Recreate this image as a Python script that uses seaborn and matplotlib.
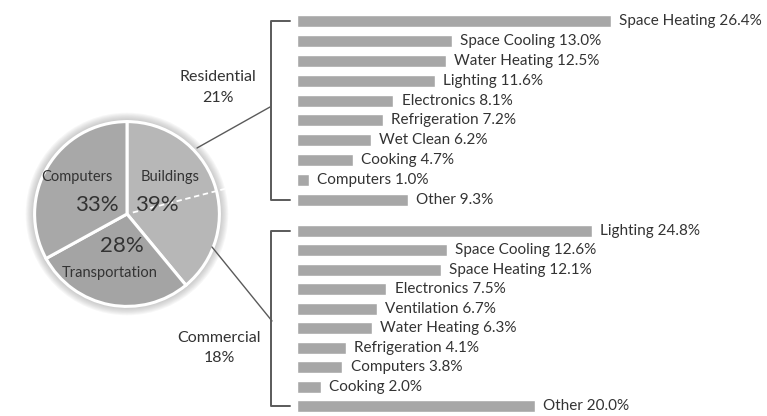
import seaborn as sns
import matplotlib.pyplot as plt
import numpy as np
import pandas as pd

# Data
pie_labels = ['Buildings', 'Transportation', 'Computers']
pie_shares = [39, 28, 33]
residential_share = 21
commercial_share = 18

res_uses = ['Space Heating', 'Space Cooling', 'Water Heating', 'Lighting', 'Electronics',
            'Refrigeration', 'Wet Clean', 'Cooking', 'Computers', 'Other']
res_pct = [26.4, 13.0, 12.5, 11.6, 8.1, 7.2, 6.2, 4.7, 1.0, 9.3]

com_uses = ['Lighting', 'Space Cooling', 'Space Heating', 'Electronics', 'Ventilation',
            'Water Heating', 'Refrigeration', 'Computers', 'Cooking', 'Other']
com_pct = [24.8, 12.6, 12.1, 7.5, 6.7, 6.3, 4.1, 3.8, 2.0, 20.0]

# Style
sns.set_style("white")
plt.rcParams['font.family'] = ['Lato', 'DejaVu Sans']
TEXT = '#333333'
BAR = '#a7a7a7'
W, H = 767, 416
PX_PER_PCT = 11.9

fig = plt.figure(figsize=(W / 100, H / 100), dpi=100)


def px_axes(left, top, width, height):
  return fig.add_axes([left / W, 1 - (top + height) / H, width / W, height / H])


def bar_panel(ax, uses, pct):
  df = pd.DataFrame({'use': uses, 'pct': pct})
  sns.barplot(data=df, x='pct', y='use', orient='h', color=BAR, width=0.6,
              saturation=1, ax=ax)
  ax.set_xlim(0, (W - 297) / PX_PER_PCT)
  for i, (u, v) in enumerate(zip(uses, pct)):
    ax.annotate(f'{u} {v:.1f}%', xy=(v, i), xytext=(6, 0), textcoords='offset points',
                va='center', ha='left', fontsize=11, color=TEXT)
  ax.axis('off')


# --- Bar panels ---
ax_res = px_axes(297, 11, W - 297, 199)
bar_panel(ax_res, res_uses, res_pct)
ax_com = px_axes(297, 221, W - 297, 195)
bar_panel(ax_com, com_uses, com_pct)

# --- Pie ---
cx, cy, r = 127, 214, 105
ax_pie = px_axes(cx - 1.1 * r, cy - 1.1 * r, 2.2 * r, 2.2 * r)
ax_pie.set_xlim(-1.1, 1.1)
ax_pie.set_ylim(-1.1, 1.1)
ax_pie.axis('off')
# soft shadow round the pie
for k in range(8):
  ax_pie.add_patch(plt.Circle((0, 0), 1.0 + 0.012 * (8 - k), color='#8a8a8a',
                              alpha=0.07, lw=0, zorder=0))
ax_pie.pie(pie_shares, colors=['#b7b7b7', '#a4a4a4', '#a8a8a8'], startangle=90,
           counterclock=False, radius=1.0,
           wedgeprops=dict(edgecolor='white', linewidth=2.2))

# --- Overlay: labels and connectors in pixel coordinates ---
ov = fig.add_axes([0, 0, 1, 1])
ov.set_xlim(0, W)
ov.set_ylim(H, 0)
ov.axis('off')
ov.patch.set_alpha(0)

# dashed split between residential and commercial inside the Buildings slice
ang = np.deg2rad(90 - residential_share * 3.6)
ov.plot([cx + 6 * np.cos(ang), cx + r * np.cos(ang)],
        [cy - 6 * np.sin(ang), cy - r * np.sin(ang)],
        color='white', lw=1.3, ls=(0, (3, 2)))

ov.text(77, 177, 'Computers', ha='center', va='center', fontsize=10.5, color=TEXT)
ov.text(97, 205, '33%', ha='center', va='center', fontsize=16, color=TEXT)
ov.text(170, 177, 'Buildings', ha='center', va='center', fontsize=10.5, color=TEXT)
ov.text(157, 205, '39%', ha='center', va='center', fontsize=16, color=TEXT)
ov.text(122, 246, '28%', ha='center', va='center', fontsize=16, color=TEXT)
ov.text(110, 273, 'Transportation', ha='center', va='center', fontsize=10.5, color=TEXT)

ov.text(218, 77, 'Residential', ha='center', va='center', fontsize=11.5, color=TEXT)
ov.text(218, 98, f'{residential_share}%', ha='center', va='center', fontsize=11.5, color=TEXT)
ov.text(219, 338, 'Commercial', ha='center', va='center', fontsize=11.5, color=TEXT)
ov.text(219, 358, f'{commercial_share}%', ha='center', va='center', fontsize=11.5, color=TEXT)

LINE = '#5a5a5a'
ov.plot([197, 270], [148, 107], color=LINE, lw=1)
ov.plot([212, 272], [247, 321], color=LINE, lw=1)
# brackets
ov.plot([290, 271, 271, 290], [21, 21, 200, 200], color=LINE, lw=1.4)
ov.plot([290, 271, 271, 290], [231, 231, 406, 406], color=LINE, lw=1.4)

fig.savefig('out.png', dpi=100)
